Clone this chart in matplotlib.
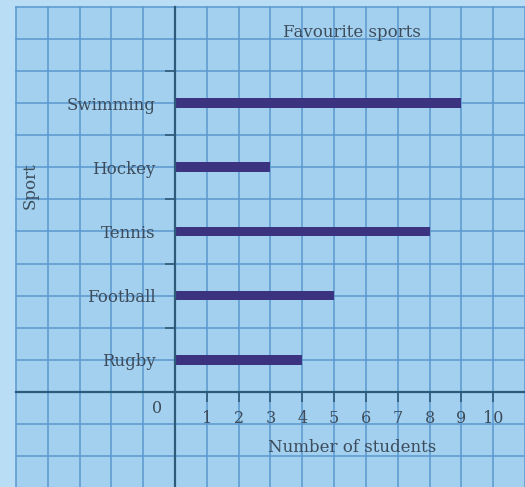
import matplotlib.pyplot as plt

# data
sports = ['Swimming', 'Hockey', 'Tennis', 'Football', 'Rugby']
students = [9, 3, 8, 5, 4]
sport_pos = [9, 7, 5, 3, 1]
x_ticks = [1, 2, 3, 4, 5, 6, 7, 8, 9, 10]
y_minor = [2, 4, 6, 8, 10]

paper = '#a3d0ef'
margin = '#b8ddf4'
grid_col = '#5a98cf'
axis_col = '#2d5a78'
bar_col = '#3b3380'
txt_col = '#3c4c5c'

plt.rcParams['font.family'] = ['DejaVu Serif']

fig = plt.figure(figsize=(5.25, 4.87), dpi=100, facecolor=margin)
ax = fig.add_axes([0, 0, 1, 1])
ax.set_xlim(-5.5, 11.0)
ax.set_ylim(-2.96, 12.21)
ax.set_facecolor(margin)

# squared paper
ax.fill_between([-5, 11.5], -3.5, 12, color=paper, lw=0, zorder=0)
for gx in range(-5, 12):
    ax.plot([gx, gx], [-3.5, 12], color=grid_col, lw=1.1, zorder=1)
for gy in range(-3, 13):
    ax.plot([-5, 11.5], [gy, gy], color=grid_col, lw=1.1, zorder=1)

ax.barh(sport_pos, students, height=0.3, color=bar_col, zorder=3)

# axes through the origin
ax.spines['left'].set_position(('data', 0))
ax.spines['bottom'].set_position(('data', 0))
ax.spines['bottom'].set_bounds(-5, 11)
ax.spines['left'].set_bounds(-3.5, 12)
for s in ['top', 'right']:
    ax.spines[s].set_visible(False)
for s in ['left', 'bottom']:
    ax.spines[s].set_color(axis_col)
    ax.spines[s].set_linewidth(1.6)
    ax.spines[s].set_zorder(4)

ax.set_xticks(x_ticks)
ax.set_xticklabels([str(t) for t in x_ticks])
ax.tick_params(axis='x', direction='out', length=7, width=1.2, color=axis_col,
               pad=6, labelsize=11.5, labelcolor=txt_col)

ax.set_yticks(sport_pos)
ax.set_yticklabels(sports)
ax.set_yticks(y_minor, minor=True)
ax.tick_params(axis='y', which='major', length=0, pad=14, labelsize=12, labelcolor=txt_col)
ax.tick_params(axis='y', which='minor', direction='out', length=7, width=1.2, color=axis_col)

ax.text(-0.55, -0.5, '0', ha='center', va='center', fontsize=11.5, color=txt_col)
ax.text(5.57, -1.72, 'Number of students', ha='center', va='center', fontsize=12, color=txt_col)
ax.text(5.57, 11.2, 'Favourite sports', ha='center', va='center', fontsize=12, color=txt_col)
ax.text(-4.55, 6.42, 'Sport', ha='center', va='center', rotation=90, fontsize=12, color=txt_col)

fig.savefig('out.png', dpi=100, facecolor=margin)
